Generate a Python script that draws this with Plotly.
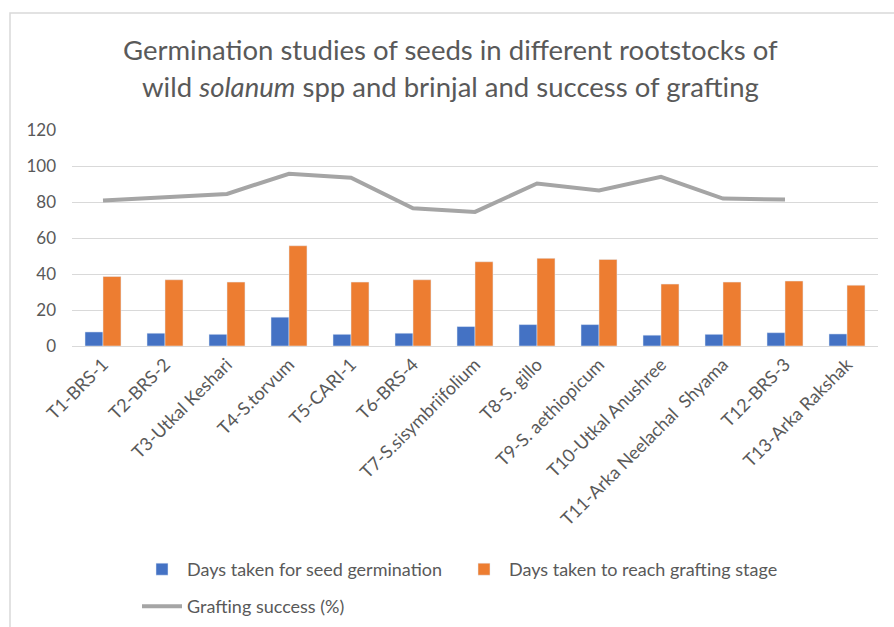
import plotly.graph_objects as go

categories = ["T1-BRS-1", "T2-BRS-2", "T3-Utkal Keshari", "T4-S.torvum", "T5-CARI-1",
              "T6-BRS-4", "T7-S.sisymbriifolium", "T8-S. gillo", "T9-S. aethiopicum",
              "T10-Utkal Anushree", "T11-Arka Neelachal  Shyama", "T12-BRS-3", "T13-Arka Rakshak"]
germination_days = [7.8, 7.1, 6.5, 16.0, 6.5, 7.1, 10.8, 11.9, 11.9, 6.0, 6.5, 7.4, 6.7]
grafting_stage_days = [38.6, 36.8, 35.5, 55.7, 35.5, 36.8, 46.8, 48.7, 48.1, 34.4, 35.5, 36.1, 33.8]
grafting_success = [80.8, 82.7, 84.5, 95.7, 93.5, 76.5, 74.5, 90.3, 86.4, 94.0, 81.9, 81.4, None]
y_ticks = [0, 20, 40, 60, 80, 100, 120]

FONT = "Lato"
GREY_TXT = "#595959"

fig = go.Figure()
fig.add_trace(go.Bar(x=categories, y=germination_days, name="Days taken for seed germination",
                     marker_color="#4472c4", legend="legend"))
fig.add_trace(go.Bar(x=categories, y=grafting_stage_days, name="Days taken to reach grafting stage",
                     marker_color="#ed7d31", legend="legend"))
fig.add_trace(go.Scatter(x=categories, y=grafting_success, name="Grafting success (%)",
                         mode="lines", line=dict(color="#a5a5a5", width=4), legend="legend2"))

L, R, T, B = 72, 16, 130, 281
W, H = 894, 627
pw, ph = W - L - R, H - T - B

def px2paper_x(px):
    return (px - L) / pw

def px2paper_y(py):
    return (H - B - py) / ph

legend_font = dict(size=18, color=GREY_TXT, family=FONT)

fig.update_layout(
    width=W, height=H,
    margin=dict(l=L, r=R, t=T, b=B, autoexpand=False),
    paper_bgcolor="white", plot_bgcolor="white",
    font=dict(family=FONT, color=GREY_TXT, size=15),
    barmode="group", bargap=0.42, bargroupgap=0,
    showlegend=True,
    legend=dict(orientation="h", x=px2paper_x(137), xanchor="left",
                y=px2paper_y(551), yanchor="top",
                entrywidth=267, font=legend_font,
                traceorder="normal", itemwidth=40),
    legend2=dict(orientation="h", x=px2paper_x(137), xanchor="left",
                 y=px2paper_y(588), yanchor="top",
                 font=legend_font, itemwidth=40),
    xaxis=dict(tickangle=-45, showgrid=False, showline=True, linecolor="#d9d9d9",
               ticks="", tickfont=dict(size=18, color=GREY_TXT, family=FONT)),
    yaxis=dict(range=[0, 120], tickvals=y_ticks, showgrid=True, gridcolor="#d9d9d9",
               gridwidth=1, zeroline=False, ticks="", showline=False,
               ticklabelstandoff=15,
               tickfont=dict(size=17, color=GREY_TXT, family=FONT)),
    annotations=[
        dict(text="Germination studies of seeds in different rootstocks of",
             x=px2paper_x(450), y=px2paper_y(50), xref="paper", yref="paper",
             xanchor="center", yanchor="middle",
             showarrow=False, font=dict(size=27.5, color=GREY_TXT, family=FONT)),
        dict(text="wild <i>solanum</i> spp and brinjal and success of grafting",
             x=px2paper_x(450), y=px2paper_y(87), xref="paper", yref="paper",
             xanchor="center", yanchor="middle",
             showarrow=False, font=dict(size=27.5, color=GREY_TXT, family=FONT)),
    ],
    shapes=[dict(type="rect", xref="paper", yref="paper",
                 x0=px2paper_x(10), x1=px2paper_x(900),
                 y0=px2paper_y(640), y1=px2paper_y(13),
                 line=dict(color="#d9d9d9", width=1.5), layer="below")],
)

fig.write_html("out.html", config={"displayModeBar": False},
               post_script="document.body.style.margin='0px';")
